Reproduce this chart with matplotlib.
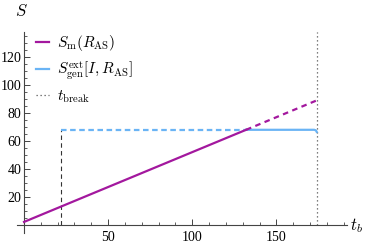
import matplotlib
matplotlib.use("Agg")
import matplotlib.pyplot as plt
import numpy as np

plt.rcParams['mathtext.fontset'] = 'cm'
plt.rcParams['font.family'] = ['Liberation Serif', 'DejaVu Serif']

# data
t_sm_solid = [0, 132]
s_sm_solid = [2.2, 68]
t_sm_dash = [132, 174]
s_sm_dash = [68, 89]
t_gen_dash = [22, 132]
s_gen_dash = [68, 68]
t_gen_solid = [132, 172.5, 173.5, 174]
s_gen_solid = [68, 68, 67.6, 66.5]
t_start = 22
t_break = 174
xticks = [50, 100, 150]
yticks = [20, 40, 60, 80, 100, 120]

magenta = '#a3189e'
blue = '#6ab4f5'

fig = plt.figure(figsize=(3.74, 2.46), dpi=100)
W, H = 374, 246
x0, x1 = 17.3, 347
y0, y1 = 233.4, 31.8
ax = fig.add_axes([x0 / W, (H - y0) / H, (x1 - x0) / W, (y0 - y1) / H])
ax.set_xlim(-4, 192)
ax.set_ylim(-6, 138)

ax.plot(t_sm_solid, s_sm_solid, color=magenta, lw=1.6, label=r'$S_{\mathrm{m}}(R_{\mathrm{AS}})$', zorder=4)
ax.plot(t_sm_dash, s_sm_dash, color=magenta, lw=1.6, ls=(0, (2.5, 2.0)), zorder=4)
ax.plot(t_gen_solid, s_gen_solid, color=blue, lw=1.6, label=r'$S_{\mathrm{gen}}^{\mathrm{ext}}[I,R_{\mathrm{AS}}]$', zorder=3)
ax.plot(t_gen_dash, s_gen_dash, color=blue, lw=1.6, ls=(0, (2.5, 1.6)), zorder=3)
ax.plot([t_start, t_start], [0, s_gen_dash[0]], color='#333333', lw=0.8, ls=(0, (4, 3)), zorder=2)
ax.plot([t_break, t_break], [0, 138], color='#555555', lw=0.9, ls=(0, (1, 2.2)), zorder=2,
        label=r'$t_{\mathrm{break}}$')

for s in ['top', 'right']:
    ax.spines[s].set_visible(False)
ax.spines['left'].set_position(('data', 0))
ax.spines['bottom'].set_position(('data', 0))
ax.spines['left'].set_bounds(-6, 138)
ax.spines['bottom'].set_bounds(-4, 192)
for s in ['left', 'bottom']:
    ax.spines[s].set_color('#444444')
    ax.spines[s].set_linewidth(0.8)

ax.set_xticks(xticks)
ax.set_yticks(yticks)
ax.set_xticks(np.arange(10, 191, 10), minor=True)
ax.set_yticks(np.arange(5, 136, 5), minor=True)
ax.tick_params(axis='both', which='major', direction='in', length=4, width=0.7, color='#444444',
               labelsize=10, pad=2)
ax.tick_params(axis='both', which='minor', direction='in', length=2, width=0.6, color='#444444')
ax.tick_params(axis='x', which='major', pad=4)

fig.text(21 / W, 1 - 12 / H, r'$S$', fontsize=12, ha='center', va='center')
fig.text(350 / W, 1 - 226 / H, r'$t_b$', fontsize=12, ha='left', va='center')

leg = ax.legend(loc='upper left', bbox_to_anchor=(36 / W, 1 - 33 / H),
                bbox_transform=fig.transFigure,
                frameon=False, fontsize=11, handlelength=0.85, handletextpad=0.5,
                labelspacing=0.42, borderaxespad=0, borderpad=0)

fig.savefig('out.png', dpi=100)
